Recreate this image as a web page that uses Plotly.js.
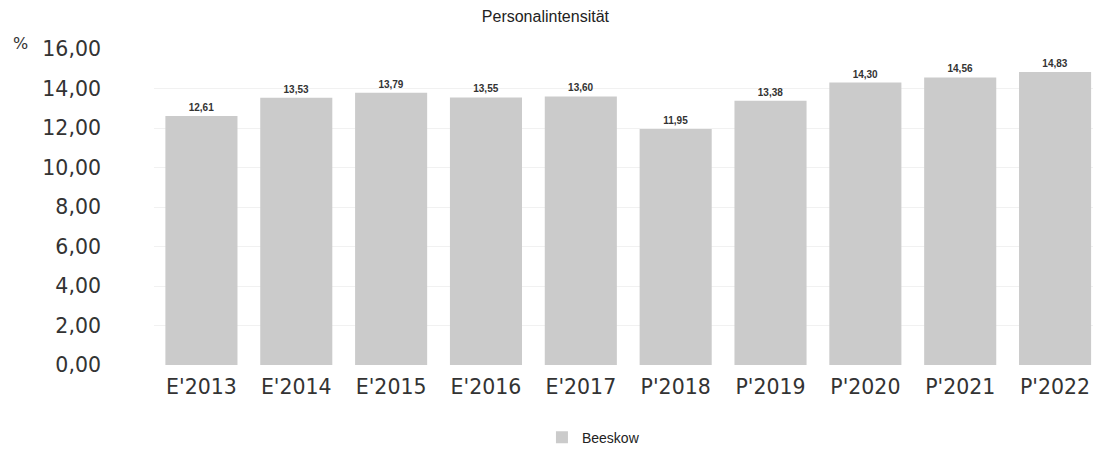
<!DOCTYPE html>
<html>
<head>
<meta charset="utf-8">
<script src="https://cdn.plot.ly/plotly-3.0.1.min.js"></script>
<style>html,body{margin:0;padding:0;background:#fff;}#chart{width:1093px;height:454px;}</style>
</head>
<body>
<div id="chart"></div>
<script>
const categories = ["E'2013","E'2014","E'2015","E'2016","E'2017","P'2018","P'2019","P'2020","P'2021","P'2022"];
const values = [12.61, 13.53, 13.79, 13.55, 13.60, 11.95, 13.38, 14.30, 14.56, 14.83];
const seriesName = "Beeskow";
const yTicks = [0, 2, 4, 6, 8, 10, 12, 14, 16];

const trace = {
  type: 'bar',
  x: categories,
  y: values,
  name: seriesName,
  showlegend: true,
  marker: {color: '#cbcbcb', line: {width: 0}},
  texttemplate: '%{y:.2f}',
  textposition: 'outside',
  cliponaxis: false,
  textfont: {family: 'Liberation Sans, Arial', size: 10, color: '#333333', weight: 'bold'},
  width: 0.76,
  hoverinfo: 'none'
};

const layout = {
  width: 1093, height: 454,
  margin: {l: 154, r: 0, t: 49, b: 87},
  paper_bgcolor: '#ffffff', plot_bgcolor: '#ffffff',
  separators: ',.',
  title: {text: 'Personalintensität', x: 0.499, xanchor: 'center', y: 0.963, yanchor: 'middle',
          font: {family: 'Liberation Sans, Arial', size: 16, color: '#222222'}},
  xaxis: {
    type: 'category',
    range: [-0.5, 9.4],
    tickfont: {family: 'DejaVu Sans', size: 20.5, color: '#333333'},
    ticklabelstandoff: 7,
    showgrid: false, zeroline: false, showline: false, ticks: ''
  },
  yaxis: {
    range: [0, 16],
    tickvals: yTicks,
    tickformat: '.2f',
    tickfont: {family: 'DejaVu Sans', size: 20.5, color: '#333333'},
    ticklabelstandoff: 52,
    showgrid: true, gridcolor: '#f1f1f1', gridwidth: 1,
    zeroline: false, showline: false, ticks: ''
  },
  bargap: 0.24,
  showlegend: true,
  legend: {orientation: 'h', x: 0.468, xanchor: 'center', y: -0.23, yanchor: 'middle',
           font: {family: 'Liberation Sans, Arial', size: 14, color: '#222222'}},
  annotations: [{text: '%', xref: 'paper', yref: 'paper', x: -0.142, y: 1.018, xanchor: 'center', yanchor: 'middle',
                 showarrow: false, font: {family: 'DejaVu Sans', size: 16, color: '#333333'}}]
};

Plotly.newPlot('chart', [trace], layout, {displayModeBar: false, staticPlot: true});
</script>
</body>
</html>
